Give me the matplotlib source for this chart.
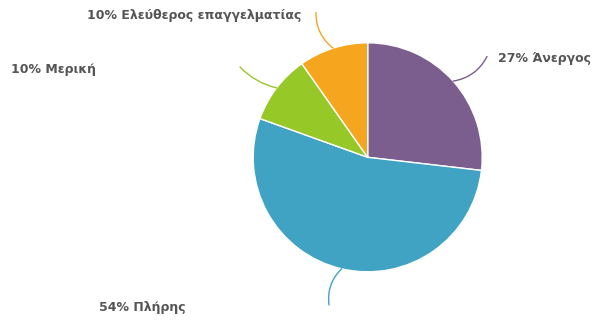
import matplotlib.pyplot as plt
import numpy as np

# data (counts; labels show rounded shares)
categories = ['Άνεργος', 'Πλήρης', 'Μερική', 'Ελεύθερος επαγγελματίας']
counts = [11, 22, 4, 4]
colors = ['#7B5E8E', '#40A3C4', '#96C828', '#F5A51E']

# label anchor (pixels) and connector end (pixels) for each slice
label_pos = [(498, 58.5), (186, 307), (96, 69), (301, 16)]
label_ha = ['left', 'right', 'right', 'right']
line_end = [(487, 56.5), (329, 305), (240, 67), (316, 12.5)]
line_rad = [-0.25, -0.25, 0.15, 0.25]

W, H = 592, 325
cx, cy, R = 367.7, 157.3, 114.5


def px2data(px, py):
    return (px - cx) / R, (cy - py) / R


plt.rcParams['font.family'] = ['DejaVu Sans']

fig = plt.figure(figsize=(W / 100, H / 100), dpi=100)
ax = fig.add_axes([0, 0, 1, 1])

wedges, _ = ax.pie(counts, colors=colors, startangle=90, counterclock=False,
                   radius=1, center=(0, 0), frame=True,
                   wedgeprops=dict(edgecolor='white', linewidth=1))
ax.set_xlim(-cx / R, (W - cx) / R)
ax.set_ylim(-(H - cy) / R, cy / R)
ax.axis('off')

total = sum(counts)
for i, w in enumerate(wedges):
    mid = np.deg2rad((w.theta1 + w.theta2) / 2)
    start = (np.cos(mid), np.sin(mid))
    end = px2data(*line_end[i])
    ax.annotate('', xy=start, xytext=end,
                arrowprops=dict(arrowstyle='-', color=colors[i], lw=1,
                                shrinkA=0, shrinkB=0,
                                connectionstyle=f'arc3,rad={line_rad[i]}'))
    pct = round(100 * counts[i] / total)
    lx, ly = px2data(*label_pos[i])
    ax.text(lx, ly, f'{pct}% {categories[i]}', ha=label_ha[i], va='center',
            fontsize=9, fontweight='bold', color='#555555')

fig.savefig('out.png', dpi=100)
